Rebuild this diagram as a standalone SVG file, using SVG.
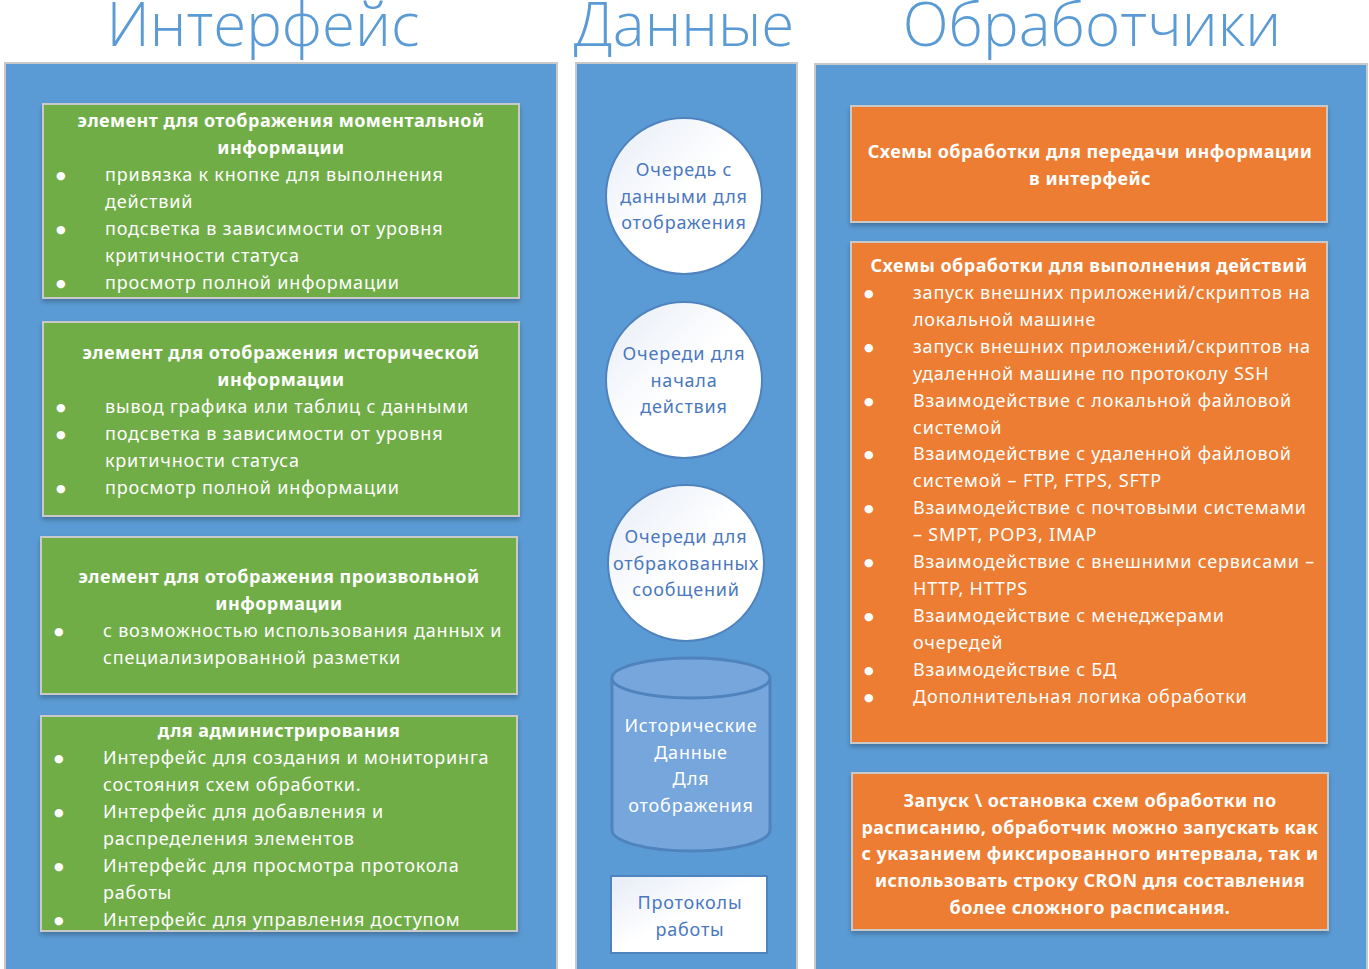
<svg xmlns="http://www.w3.org/2000/svg" width="1369" height="969" viewBox="0 0 1369 969">
<defs>
<style>
.hdr{font-family:"Open Sans","Noto Sans",sans-serif;font-weight:300;font-size:60px;fill:#5B9BD5;text-anchor:middle}
.panel{fill:#5B9BD5;stroke:#C9C9C9;stroke-width:2}
.green{fill:#70AD47;stroke:#C9C9C9;stroke-width:2}
.orange{fill:#ED7D31;stroke:#C9C9C9;stroke-width:2}
.t{font-family:"Noto Sans","Open Sans",sans-serif;font-size:18px;letter-spacing:0.8px;fill:#FFFFFF}
.d{font-family:"DejaVu Sans",sans-serif;font-size:11px;fill:#FFFFFF}
.b{font-family:"Noto Sans","Open Sans",sans-serif;font-size:18px;letter-spacing:0.45px;font-weight:bold;fill:#FFFFFF;text-anchor:middle}
.q{font-family:"Noto Sans","Open Sans",sans-serif;font-size:18px;letter-spacing:0.8px;fill:#4A78BE;text-anchor:middle}
.w{font-family:"Noto Sans","Open Sans",sans-serif;font-size:18px;letter-spacing:0.8px;fill:#FFFFFF;text-anchor:middle}
.circ{fill:url(#wg);stroke:#4F83BE;stroke-width:2}
</style>
<linearGradient id="wg" x1="0" y1="0" x2="1" y2="1">
<stop offset="0" stop-color="#E6ECF6"/>
<stop offset="0.5" stop-color="#FFFFFF"/>
<stop offset="1" stop-color="#FFFFFF"/>
</linearGradient>
<filter id="sh" x="-5%" y="-5%" width="110%" height="120%">
<feDropShadow dx="0" dy="3" stdDeviation="2.5" flood-color="#000000" flood-opacity="0.25"/>
</filter>
</defs>

<g id="headers">
<text class="hdr" x="263" y="46">Интерфейс</text>
<text class="hdr" x="684" y="46">Данные</text>
<text class="hdr" x="1092" y="46">Обработчики</text>
</g>

<g id="panels">
<rect class="panel" x="5" y="63" width="552" height="910"/>
<rect class="panel" x="576" y="63" width="221" height="910"/>
<rect class="panel" x="815" y="64" width="552" height="910"/>
</g>

<g id="green1" filter="url(#sh)">
<rect class="green" x="43" y="104" width="476" height="194"/>
</g>
<g id="green1-text">
<text class="b" x="281" y="127">элемент для отображения моментальной</text>
<text class="b" x="281" y="154">информации</text>
<text class="d" x="56" y="179">●</text><text class="t" x="105" y="181">привязка к кнопке для выполнения</text>
<text class="t" x="105" y="208">действий</text>
<text class="d" x="56" y="233">●</text><text class="t" x="105" y="235">подсветка в зависимости от уровня</text>
<text class="t" x="105" y="262">критичности статуса</text>
<text class="d" x="56" y="287">●</text><text class="t" x="105" y="289">просмотр полной информации</text>
</g>

<g id="green2" filter="url(#sh)">
<rect class="green" x="43" y="322" width="476" height="194"/>
</g>
<g id="green2-text">
<text class="b" x="281" y="359">элемент для отображения исторической</text>
<text class="b" x="281" y="386">информации</text>
<text class="d" x="56" y="411">●</text><text class="t" x="105" y="413">вывод графика или таблиц с данными</text>
<text class="d" x="56" y="438">●</text><text class="t" x="105" y="440">подсветка в зависимости от уровня</text>
<text class="t" x="105" y="467">критичности статуса</text>
<text class="d" x="56" y="492">●</text><text class="t" x="105" y="494">просмотр полной информации</text>
</g>

<g id="green3" filter="url(#sh)">
<rect class="green" x="41" y="537" width="476" height="157"/>
</g>
<g id="green3-text">
<text class="b" x="279" y="583">элемент для отображения произвольной</text>
<text class="b" x="279" y="610">информации</text>
<text class="d" x="54" y="635">●</text><text class="t" x="103" y="637">с возможностью использования данных и</text>
<text class="t" x="103" y="664">специализированной разметки</text>
</g>

<g id="green4" filter="url(#sh)">
<rect class="green" x="41" y="716" width="476" height="215"/>
</g>
<g id="green4-text">
<text class="b" x="279" y="737">для администрирования</text>
<text class="d" x="54" y="762">●</text><text class="t" x="103" y="764">Интерфейс для создания и мониторинга</text>
<text class="t" x="103" y="791">состояния схем обработки.</text>
<text class="d" x="54" y="816">●</text><text class="t" x="103" y="818">Интерфейс для добавления и</text>
<text class="t" x="103" y="845">распределения элементов</text>
<text class="d" x="54" y="870">●</text><text class="t" x="103" y="872">Интерфейс для просмотра протокола</text>
<text class="t" x="103" y="899">работы</text>
<text class="d" x="54" y="924">●</text><text class="t" x="103" y="926">Интерфейс для управления доступом</text>
</g>

<g id="queue1">
<circle class="circ" cx="684" cy="196" r="78"/>
<text class="q" x="684" y="176">Очередь с</text>
<text class="q" x="684" y="203">данными для</text>
<text class="q" x="684" y="229">отображения</text>
</g>

<g id="queue2">
<circle class="circ" cx="684" cy="380" r="78"/>
<text class="q" x="684" y="360">Очереди для</text>
<text class="q" x="684" y="387">начала</text>
<text class="q" x="684" y="413">действия</text>
</g>

<g id="queue3">
<circle class="circ" cx="686" cy="563" r="78"/>
<text class="q" x="686" y="543">Очереди для</text>
<text class="q" x="686" y="570">отбракованных</text>
<text class="q" x="686" y="596">сообщений</text>
</g>

<g id="history">
<path d="M612,678 L612,830 A79,21 0 0 0 770,830 L770,678" fill="#76A6DB" stroke="#4F83BE" stroke-width="3"/>
<ellipse cx="691" cy="678" rx="79" ry="20" fill="#76A6DB" stroke="#4F83BE" stroke-width="3"/>
<text class="w" x="691" y="732">Исторические</text>
<text class="w" x="691" y="759">Данные</text>
<text class="w" x="691" y="785">Для</text>
<text class="w" x="691" y="812">отображения</text>
</g>

<g id="protocols">
<rect x="611" y="876" width="156" height="77" fill="url(#wg)" stroke="#4F83BE" stroke-width="2"/>
<text class="q" x="690" y="909">Протоколы</text>
<text class="q" x="690" y="936">работы</text>
</g>

<g id="orange1" filter="url(#sh)">
<rect class="orange" x="851" y="106" width="476" height="116"/>
</g>
<g id="orange1-text">
<text class="b" x="1090" y="158">Схемы обработки для передачи информации</text>
<text class="b" x="1090" y="185">в интерфейс</text>
</g>

<g id="orange2" filter="url(#sh)">
<rect class="orange" x="851" y="242" width="476" height="501"/>
</g>
<g id="orange2-text">
<text class="b" x="1089" y="272">Схемы обработки для выполнения действий</text>
<text class="d" x="864" y="297">●</text><text class="t" x="913" y="299">запуск внешних приложений/скриптов на</text>
<text class="t" x="913" y="326">локальной машине</text>
<text class="d" x="864" y="351">●</text><text class="t" x="913" y="353">запуск внешних приложений/скриптов на</text>
<text class="t" x="913" y="380">удаленной машине по протоколу SSH</text>
<text class="d" x="864" y="405">●</text><text class="t" x="913" y="407">Взаимодействие с локальной файловой</text>
<text class="t" x="913" y="434">системой</text>
<text class="d" x="864" y="458">●</text><text class="t" x="913" y="460">Взаимодействие с удаленной файловой</text>
<text class="t" x="913" y="487">системой – FTP, FTPS, SFTP</text>
<text class="d" x="864" y="512">●</text><text class="t" x="913" y="514">Взаимодействие с почтовыми системами</text>
<text class="t" x="913" y="541">– SMPT, POP3, IMAP</text>
<text class="d" x="864" y="566">●</text><text class="t" x="913" y="568">Взаимодействие с внешними сервисами –</text>
<text class="t" x="913" y="595">HTTP, HTTPS</text>
<text class="d" x="864" y="620">●</text><text class="t" x="913" y="622">Взаимодействие с менеджерами</text>
<text class="t" x="913" y="649">очередей</text>
<text class="d" x="864" y="674">●</text><text class="t" x="913" y="676">Взаимодействие с БД</text>
<text class="d" x="864" y="701">●</text><text class="t" x="913" y="703">Дополнительная логика обработки</text>
</g>

<g id="orange3" filter="url(#sh)">
<rect class="orange" x="852" y="773" width="476" height="157"/>
</g>
<g id="orange3-text">
<text class="b" x="1090" y="807">Запуск \ остановка схем обработки по</text>
<text class="b" x="1090" y="834">расписанию, обработчик можно запускать как</text>
<text class="b" x="1090" y="860">с указанием фиксированного интервала, так и</text>
<text class="b" x="1090" y="887">использовать строку CRON для составления</text>
<text class="b" x="1090" y="914">более сложного расписания.</text>
</g>

<g id="connectors"></g>
</svg>
